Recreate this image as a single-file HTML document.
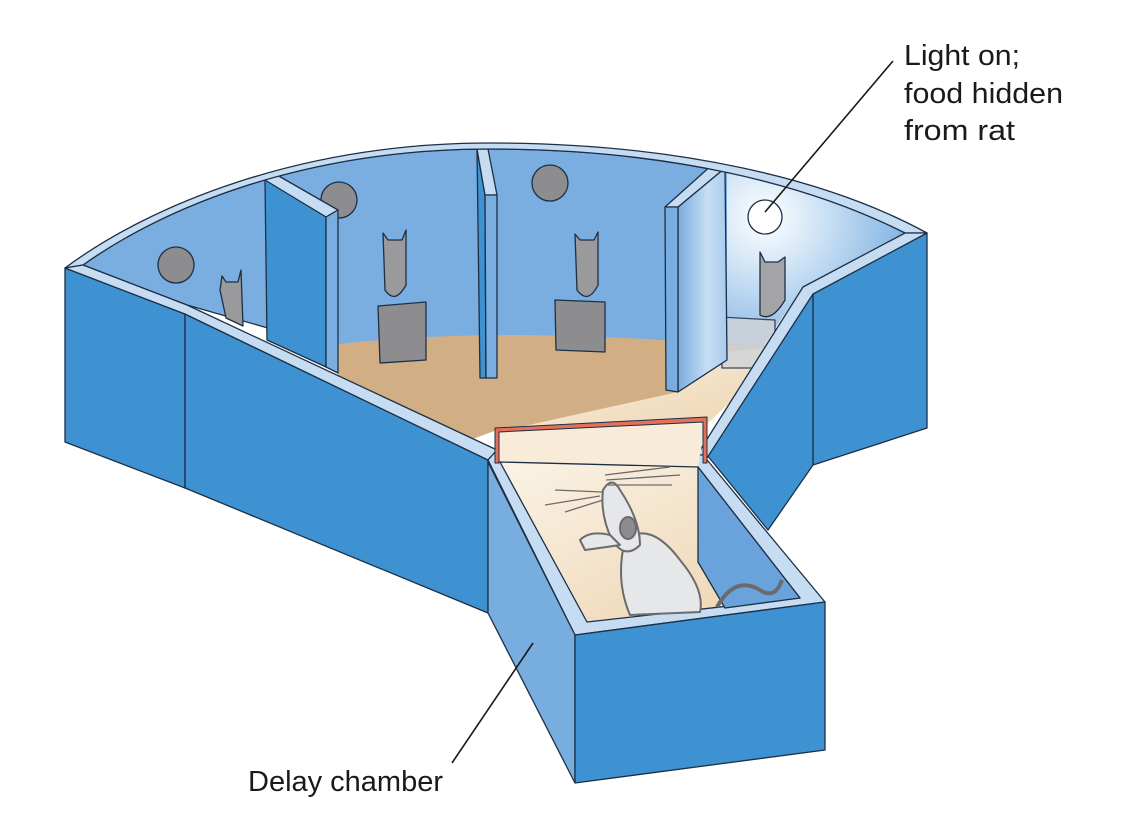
<!DOCTYPE html>
<html><head><meta charset="utf-8"><style>
html,body{margin:0;padding:0;background:#fff;}
svg{display:block;}
text{font-family:"Liberation Sans",sans-serif;font-size:29px;fill:#1a1a1a;}
</style></head><body>
<svg width="1121" height="838" viewBox="0 0 1121 838" xmlns="http://www.w3.org/2000/svg">
<defs>
<radialGradient id="glow" cx="765" cy="217" r="150" gradientUnits="userSpaceOnUse">
<stop offset="0" stop-color="#ffffff"/><stop offset="0.35" stop-color="#d2e5f6"/><stop offset="1" stop-color="#7aaee0"/></radialGradient>
<linearGradient id="beam" x1="0" y1="0" x2="1" y2="1">
<stop offset="0" stop-color="#fbf3e6"/><stop offset="1" stop-color="#ecd3ae"/></linearGradient>
<linearGradient id="glass" x1="0" y1="0" x2="1" y2="0">
<stop offset="0" stop-color="#78ade0"/><stop offset="0.6" stop-color="#c6def3"/><stop offset="1" stop-color="#a9cbee"/></linearGradient>
</defs>
<g stroke="#1d2f45" stroke-width="1.3" stroke-linejoin="round">
<path d="M83,265 C160,210 300,149 490,149 C670,149 810,185 905,233 L803,287 L727,360 L667,345 Q550,330 338,348 L187,305 Z" fill="#7aaee0"/>
<path d="M727,166 C800,180 860,208 905,233 L803,287 L740,380 L727,360 Z" fill="url(#glow)" stroke="none"/>
<path d="M330,345 Q500,325 727,345 L770,345 L740,390 L706,420 L497,430 L470,440 L338,375 Z" fill="#d2ae84" stroke="none"/>
<path d="M678,392 L727,352 L790,345 L706,425 L497,432 Z" fill="url(#beam)" stroke="none"/>
<circle cx="176" cy="265" r="18" fill="#8d8d8f"/>
<circle cx="339" cy="200" r="18" fill="#8d8d8f"/>
<circle cx="550" cy="183" r="18" fill="#8d8d8f"/>
<circle cx="765" cy="217" r="17" fill="#ffffff"/>
<path d="M220,290 L222,276 L226,282 L238,282 L241,270 L243,326 L226,318 Z" fill="#9a9a9c"/>
<path d="M383,233 L388,240 L402,240 L406,230 L406,285 Q395,305 385,290 Z" fill="#9a9a9c"/>
<path d="M378,306 L426,302 L426,360 L380,363 Z" fill="#8d8d8f"/>
<path d="M575,234 L580,240 L594,240 L598,232 L598,285 Q588,305 577,290 Z" fill="#9a9a9c"/>
<path d="M555,300 L605,302 L605,352 L556,350 Z" fill="#8d8d8f"/>
<path d="M760,252 L765,262 L778,262 L785,257 L785,300 Q772,322 760,315 Z" fill="#a4a4a6"/>
<path d="M720,317 L775,320 L775,368 L722,368 Z" fill="#d0d4d8" opacity="0.85"/>
<path d="M264,180 L277,175 L338,210 L326,217 Z" fill="#c5dcf2"/>
<path d="M265,180 L326,217 L326,367 L267,340 Z" fill="#3f92d2"/>
<path d="M326,217 L338,210 L338,373 L326,367 Z" fill="#7aaee0"/>
<path d="M477,149 L485,195 L486,378 L480,378 Z" fill="#3f92d2"/>
<path d="M477,149 L488,149 L497,195 L485,195 Z" fill="#c5dcf2"/>
<path d="M485,195 L497,195 L497,378 L486,378 Z" fill="#7aaee0"/>
<path d="M678,207 L725,168 L727,360 L678,392 Z" fill="url(#glass)"/>
<path d="M665,207 L713,164 L725,168 L678,207 Z" fill="#c5dcf2"/>
<path d="M665,207 L678,207 L678,392 L666,390 Z" fill="#7aaee0"/>
<path d="M65,268 C150,205 300,143 490,143 C680,143 830,180 927,233 L905,233 C810,185 670,149 490,149 C300,149 160,210 83,265 Z" fill="#c5dcf2"/>
<path d="M813,292 L927,233 L927,428 L813,465 Z" fill="#3f92d2"/>
<path d="M707,455 L813,292 L813,465 L768,530 Z" fill="#3f92d2"/>
<path d="M927,233 L905,233 L803,287 L697,455 L707,458 L813,294 Z" fill="#c5dcf2"/>
<path d="M65,268 L185,314 L185,488 L65,442 Z" fill="#3f92d2"/>
<path d="M185,314 L488,460 L488,613 L185,488 Z" fill="#3f92d2"/>
<path d="M65,268 L83,265 L187,305 L497,450 L488,460 L185,314 Z" fill="#c5dcf2"/>
<path d="M488,460 L497,450 L703,455 L825,602 L575,635 Z" fill="#c5dcf2"/>
<path d="M497,430 L706,420 L698,467 L500,462 Z" fill="#f8ecd9" stroke="none"/>
<path d="M500,462 L698,467 L800,598 L587,622 Z" fill="url(#beam)"/>
<path d="M698,467 L800,598 L725,608 L698,562 Z" fill="#6aa3dc"/>
<path d="M488,462 L575,635 L575,783 L488,613 Z" fill="#78ade0"/>
<path d="M575,635 L825,602 L825,750 L575,783 Z" fill="#3f92d2"/>
<path d="M495,428 L707,417 L707,463 L703,463 L703,422 L499,432 L499,463 L495,463 Z" fill="#e4705a" stroke-width="1"/>
<g stroke="#6b6b6d" stroke-width="2">
<path d="M717,607 Q735,575 760,590 Q775,600 782,580" fill="none" stroke-width="4"/>
<path d="M625,540 Q650,520 680,560 Q705,590 700,612 L630,615 Q615,580 625,540 Z" fill="#e6e7e9"/>
<path d="M603,490 Q612,475 620,490 Q640,520 640,545 Q625,560 612,540 Q600,515 603,490 Z" fill="#e6e7e9"/>
<path d="M580,540 Q590,530 610,535 L620,545 Q600,548 585,550 Z" fill="#e6e7e9"/>
<ellipse cx="628" cy="528" rx="8" ry="11" fill="#8d8d8f"/>
<path d="M555,490 L602,492 M545,505 L600,496 M565,512 L603,500 M605,475 L670,467 M606,480 L680,475 M608,485 L672,485" fill="none" stroke-width="1.3"/>
</g>
</g>
<line x1="893" y1="61" x2="765" y2="212" stroke="#1a1a1a" stroke-width="1.6"/>
<line x1="452" y1="763" x2="533" y2="643" stroke="#1a1a1a" stroke-width="1.6"/>
<text x="904" y="65" textLength="116" lengthAdjust="spacingAndGlyphs">Light on;</text>
<text x="904" y="103" textLength="159" lengthAdjust="spacingAndGlyphs">food hidden</text>
<text x="904" y="140" textLength="111" lengthAdjust="spacingAndGlyphs">from rat</text>
<text x="248" y="791" textLength="195" lengthAdjust="spacingAndGlyphs">Delay chamber</text>
</svg>
</body></html>
